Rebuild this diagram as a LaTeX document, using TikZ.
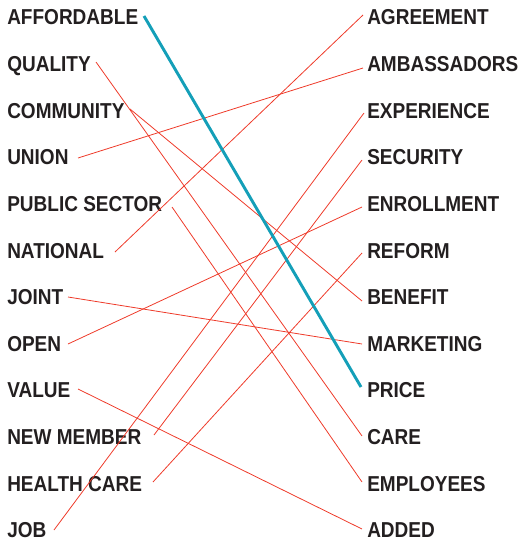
\documentclass[tikz,border=0pt]{standalone}
\usepackage{fontspec}
\newfontfamily\lblfont{Liberation Sans}[FakeStretch=0.88]
\definecolor{txt}{HTML}{231F20}
\definecolor{linkred}{HTML}{EE3B2A}
\definecolor{linkteal}{HTML}{149FB8}
\begin{document}
\begin{tikzpicture}[x=0.75pt,y=-0.75pt,
  word/.style={anchor=base west,inner sep=0pt,text=txt,font=\lblfont\bfseries\fontsize{16.2pt}{18pt}\selectfont},
  link/.style={draw=linkred,line width=0.6pt},
  hilink/.style={draw=linkteal,line width=2.2pt}]
\useasboundingbox (0,0) rectangle (520,542);
% left column
\node[word] (l1)  at (7,25.0)  {AFFORDABLE};
\node[word] (l2)  at (7,71.6)  {QUALITY};
\node[word] (l3)  at (7,118.2) {COMMUNITY};
\node[word] (l4)  at (7,164.8) {UNION};
\node[word] (l5)  at (7,211.4) {PUBLIC SECTOR};
\node[word] (l6)  at (7,258.0) {NATIONAL};
\node[word] (l7)  at (7,304.6) {JOINT};
\node[word] (l8)  at (7,351.2) {OPEN};
\node[word] (l9)  at (7,397.8) {VALUE};
\node[word] (l10) at (7,444.4) {NEW MEMBER};
\node[word] (l11) at (7,491.0) {HEALTH CARE};
\node[word] (l12) at (7,537.6) {JOB};
% right column
\node[word] (r1)  at (367,25.0)  {AGREEMENT};
\node[word] (r2)  at (367,71.6)  {AMBASSADORS};
\node[word] (r3)  at (367,118.2) {EXPERIENCE};
\node[word] (r4)  at (367,164.8) {SECURITY};
\node[word] (r5)  at (367,211.4) {ENROLLMENT};
\node[word] (r6)  at (367,258.0) {REFORM};
\node[word] (r7)  at (367,304.6) {BENEFIT};
\node[word] (r8)  at (367,351.2) {MARKETING};
\node[word] (r9)  at (367,397.8) {PRICE};
\node[word] (r10) at (367,444.4) {CARE};
\node[word] (r11) at (367,491.0) {EMPLOYEES};
\node[word] (r12) at (367,537.6) {ADDED};
% connector end points
\coordinate (a1)  at (144,16);
\coordinate (a2)  at (96,62);
\coordinate (a3)  at (130,109);
\coordinate (a4)  at (78,158);
\coordinate (a5)  at (172,207);
\coordinate (a6)  at (115,252);
\coordinate (a7)  at (68,297);
\coordinate (a8)  at (68,344);
\coordinate (a9)  at (78,389);
\coordinate (a10) at (154,435);
\coordinate (a11) at (153,482);
\coordinate (a12) at (54,530);
\coordinate (b1)  at (363,15);
\coordinate (b2)  at (363,68);
\coordinate (b3)  at (364,113);
\coordinate (b4)  at (362,160);
\coordinate (b5)  at (362,207);
\coordinate (b6)  at (362,253);
\coordinate (b7)  at (362,301);
\coordinate (b8)  at (362,344);
\coordinate (b9)  at (361,387);
\coordinate (b10) at (362,436);
\coordinate (b11) at (362,482);
\coordinate (b12) at (362,529);
% connectors
\draw[link] (a2) -- (b10);
\draw[link] (a3) -- (b7);
\draw[link] (a4) -- (b2);
\draw[link] (a5) -- (b11);
\draw[link] (a6) -- (b1);
\draw[link] (a7) -- (b8);
\draw[link] (a8) -- (b5);
\draw[link] (a9) -- (b12);
\draw[link] (a10) -- (b4);
\draw[link] (a11) -- (b6);
\draw[link] (a12) -- (b3);
\draw[hilink] (a1) -- (b9);
\end{tikzpicture}
\end{document}
